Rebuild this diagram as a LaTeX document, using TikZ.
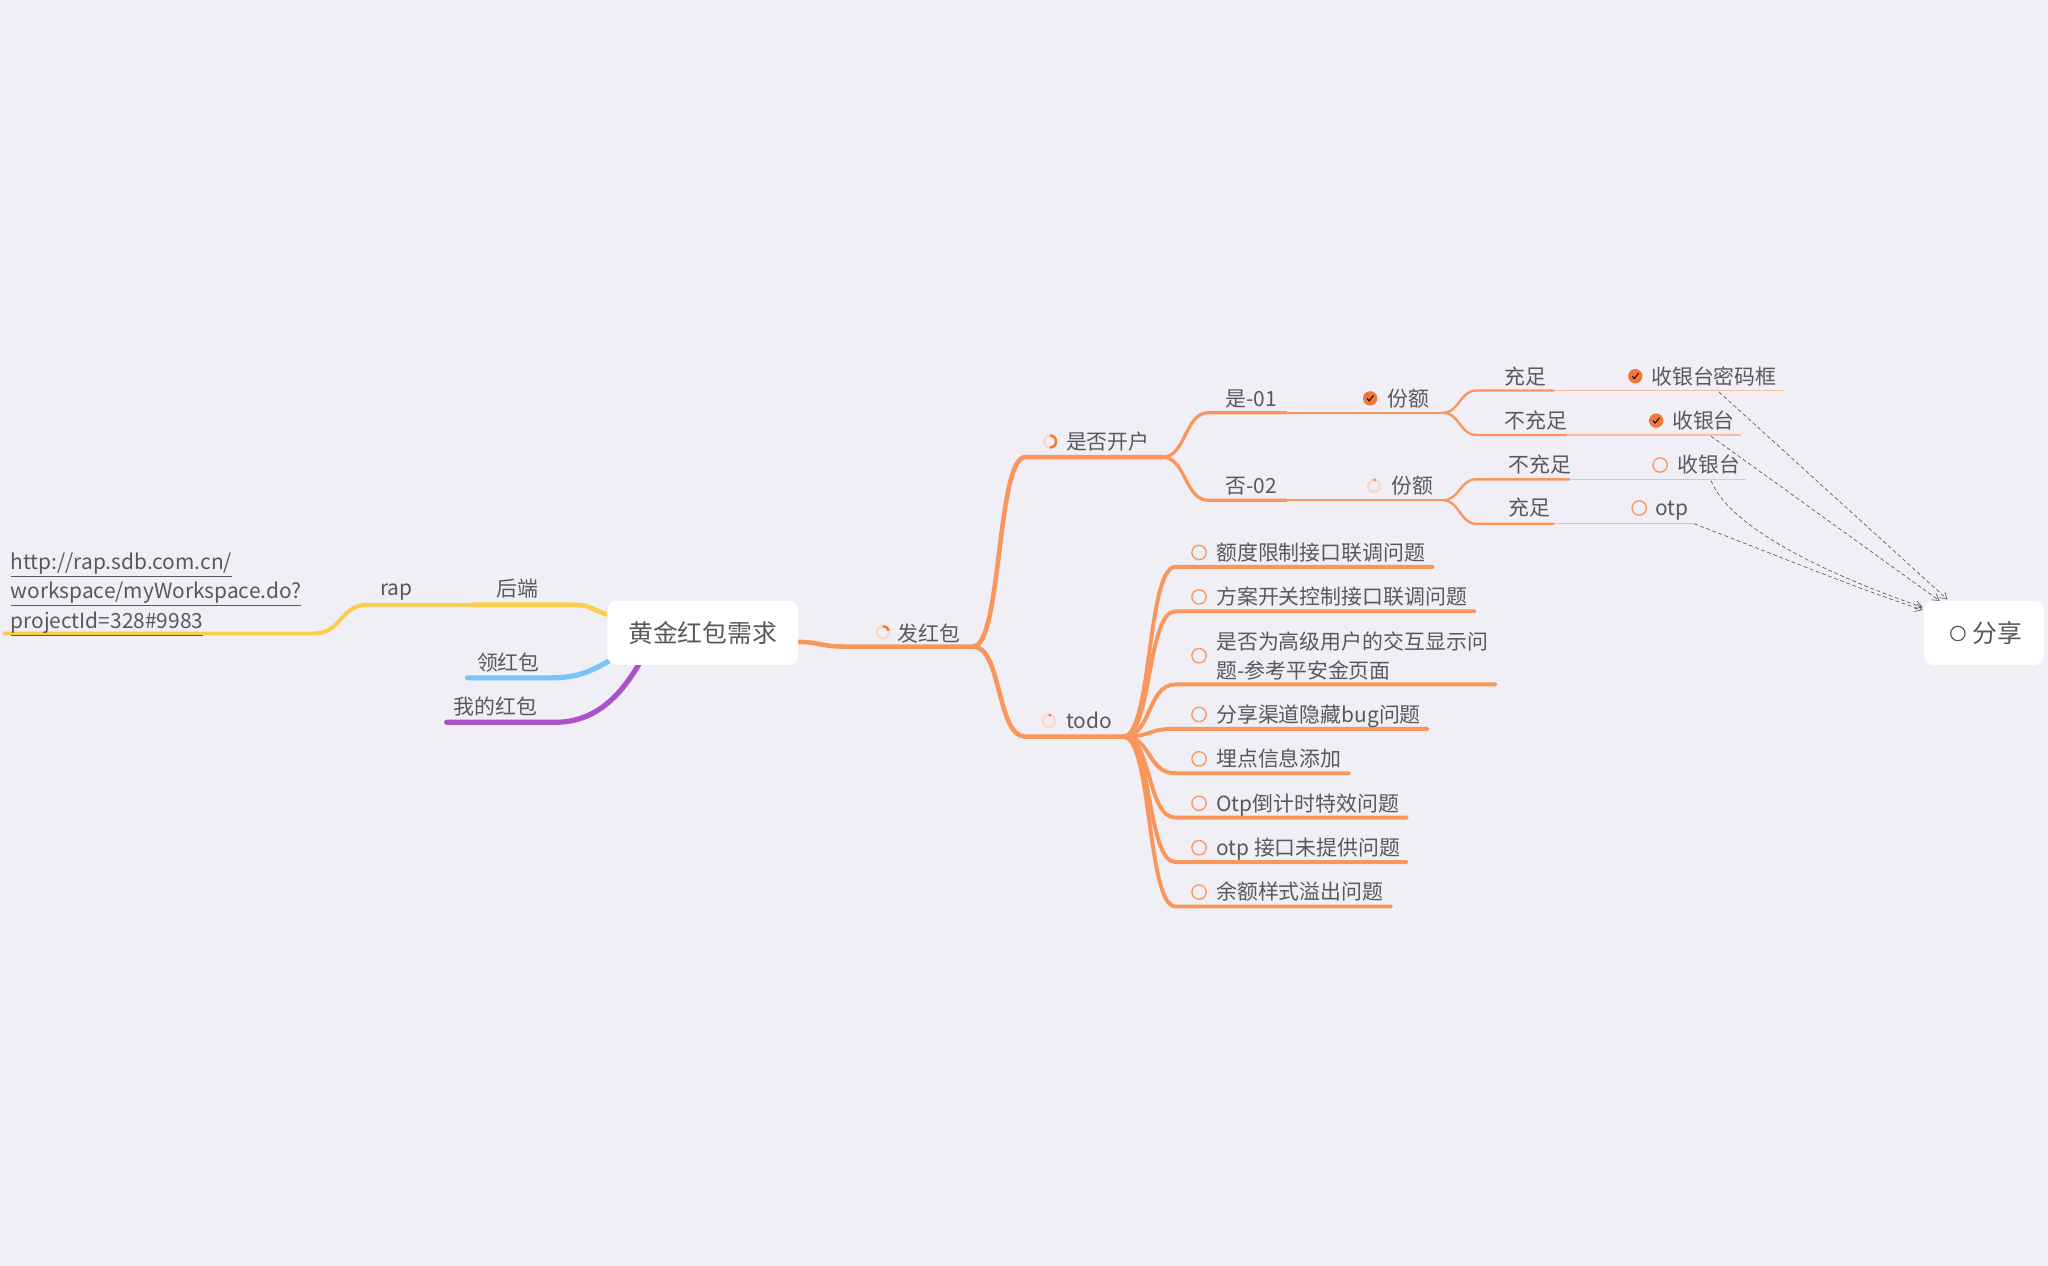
\documentclass[tikz,border=0pt]{standalone}
\usepackage{fontspec}
\setmainfont{Noto Sans CJK SC}
\usetikzlibrary{arrows.meta,backgrounds}
\definecolor{bgpaper}{RGB}{240,239,245}
\definecolor{inkgray}{RGB}{88,88,94}
\definecolor{mapor}{RGB}{250,150,92}
\definecolor{maporlt}{RGB}{251,190,154}
\definecolor{mapordk}{RGB}{240,118,58}
\definecolor{ringlt}{RGB}{250,216,198}
\definecolor{mapyel}{RGB}{253,204,72}
\definecolor{mapblue}{RGB}{122,196,250}
\definecolor{mappurp}{RGB}{172,82,200}
\tikzset{
    topic/.style = {text=inkgray, font=\fontsize{16}{20}\selectfont, inner sep=0pt, anchor=base west},
    root-box/.style = {fill=white, rounded corners=7pt, text=inkgray, font=\fontsize{19}{22}\selectfont, minimum width=146pt, minimum height=49pt, inner sep=0pt},
    trunk/.style = {draw=mapor, line width=3.5pt, line cap=round},
    twig/.style = {draw=mapor, line width=3pt, line cap=round},
    branch/.style = {draw=mapor, line width=2.5pt, line cap=round},
    sub/.style = {draw=mapor, line width=1.8pt},
    leaf/.style = {draw=maporlt, line width=1.1pt},
    yel-br/.style = {draw=mapyel, line width=3.5pt, line cap=round},
    blue-br/.style = {draw=mapblue, line width=4pt, line cap=round},
    purp-br/.style = {draw=mappurp, line width=4pt, line cap=round},
    link-arrow/.style = {draw=inkgray, densely dashed, line width=0.5pt, -{Straight Barb[length=5pt,width=6pt]}},
    pics/tickmark/.style = {code={
        \fill[mapordk] (0,0) circle (5.5);
        \draw[black, line width=0.7pt] (-2.4,0) -- (-0.7,1.9) -- (2.5,-2.2);
    }},
    pics/openmark/.style = {code={\draw[mapor, line width=1pt] (0,0) circle (5.5);}},
    pics/progmark/.style = {code={
        \draw[ringlt, line width=1.8pt] (0,0) circle (4.6);
        \draw[mapordk, line width=1.8pt] (270:4.6) arc (270:270+#1:4.6);
    }},
}

\begin{document}
\begin{tikzpicture}[x=1pt, y=-1pt]
\useasboundingbox (0,0) rectangle (1568,969);

% boxes
\node[root-box] (root) at (538,484.5) {黄金红包需求};
\node[root-box, minimum width=92pt] (share) at (1519,484.5) {\hspace*{21pt}分享};
\draw[inkgray, line width=0.9pt] (1499,485) circle (5.5);

% left side
\node[topic] (houduan) at (380,457) {后端};
\node[topic] (rap) at (291,456) {rap};
\node[topic, anchor=north west, align=left, font=\fontsize{16}{22.5}\selectfont] (url) at (8,423)
    {\underline{http://rap.sdb.com.cn/}\\\underline{workspace/myWorkspace.do?}\\\underline{projectId=328\#9983}};
\node[topic] (linghb) at (365,513) {领红包};
\node[topic] (wodehb) at (347,547) {我的红包};

% right side
\node[topic] (fahb) at (687,491) {发红包};
\pic at (676,484) {progmark=75};
\node[topic] (kaihu) at (816,344) {是否开户};
\pic at (804,338) {progmark=180};
\node[topic] (todo) at (816,558) {todo};
\pic at (803,552) {progmark=20};

\node[topic] (shi01) at (938,311) {是-01};
\node[topic] (fene1) at (1062,311) {份额};
\pic at (1049,305) {tickmark};
\node[topic] (fou02) at (938,378) {否-02};
\node[topic] (fene2) at (1065,378) {份额};
\pic at (1052,372) {progmark=15};

\node[topic] (chong1) at (1152,294) {充足};
\node[topic] (mimak) at (1264,294) {收银台密码框};
\pic at (1252,288) {tickmark};
\node[topic] (buchong1) at (1152,328) {不充足};
\node[topic] (syt1) at (1280,328) {收银台};
\pic at (1268,322) {tickmark};
\node[topic] (buchong2) at (1155,362) {不充足};
\node[topic] (syt2) at (1284,362) {收银台};
\pic at (1271,356) {openmark};
\node[topic] (chong2) at (1155,395) {充足};
\node[topic] (otp) at (1267,395) {otp};
\pic at (1255,389) {openmark};

% line points
\coordinate (hd-a) at (435,463);
\coordinate (hd-b) at (362,463);
\coordinate (rap-b) at (282,463);
\coordinate (url-a) at (240,485);
\coordinate (url-b) at (3,485);
\coordinate (lhb-a) at (420,519);
\coordinate (lhb-b) at (358,519);
\coordinate (wd-a) at (425,553);
\coordinate (wd-b) at (342,553);
\coordinate (fhb-a) at (645,495);
\coordinate (fhb-b) at (745,495);
\coordinate (sf-a) at (785,350);
\coordinate (sf-b) at (890,350);
\coordinate (todo-a) at (785,564);
\coordinate (todo-b) at (860,564);
\coordinate (s01-a) at (925,316);
\coordinate (s01-b) at (985,316);
\coordinate (fe1-b) at (1105,316);
\coordinate (f02-a) at (925,383);
\coordinate (f02-b) at (985,383);
\coordinate (fe2-b) at (1105,383);
\coordinate (cz1-a) at (1130,299);
\coordinate (cz1-b) at (1190,299);
\coordinate (mmk-b) at (1365,299);
\coordinate (bcz1-a) at (1130,333);
\coordinate (bcz1-b) at (1200,333);
\coordinate (syt1-b) at (1333,333);
\coordinate (bcz2-a) at (1130,367);
\coordinate (bcz2-b) at (1202,367);
\coordinate (syt2-b) at (1337,367);
\coordinate (cz2-a) at (1130,401);
\coordinate (cz2-b) at (1190,401);
\coordinate (otp-b) at (1297,401);

% todo items
\foreach \nm/\uy/\ux/\txt in {td1/434/1097/额度限制接口联调问题, td2/468/1129/方案开关控制接口联调问题,
    td4/558/1093/分享渠道隐藏bug问题, td5/592/1033/埋点信息添加, td6/626/1077/Otp倒计时特效问题,
    td7/660/1077/otp 接口未提供问题, td8/694/1065/余额样式溢出问题} {
    \coordinate (\nm-a) at (900,\uy);
    \coordinate (\nm-b) at (\ux,\uy);
    \node[topic] (\nm) at (931,\uy-5) {\txt};
    \pic at (918,\uy-11) {openmark};
}
\coordinate (td3-a) at (900,524);
\coordinate (td3-b) at (1145,524);
\node[topic, anchor=west, align=left, font=\fontsize{16}{22}\selectfont] (td3) at (931,502) {是否为高级用户的交互显示问\\题-参考平安金页面};
\pic at (918,502) {openmark};

% dashed links to share
\coordinate (a1-s) at (1316,300);
\coordinate (a2-s) at (1310,334);
\coordinate (a3-s) at (1310,368);
\coordinate (a4-s) at (1297,401);
\coordinate (shr-1) at (1491,459);
\coordinate (shr-2) at (1485,460);
\coordinate (shr-3) at (1472,465);
\coordinate (shr-4) at (1472,467);
\draw[link-arrow] (a1-s) -- (shr-1);
\draw[link-arrow] (a2-s) -- (shr-2);
\draw[link-arrow] (a3-s) .. controls (1325,405) and (1400,440) .. (shr-3);
\draw[link-arrow] (a4-s) .. controls (1360,425) and (1420,450) .. (shr-4);

\begin{scope}[on background layer]
\fill[bgpaper] (0,0) rectangle (1568,969);
% left branches
\draw[yel-br] ([yshift=14pt]root.west) .. controls +(-15,-5) and +(18,0) .. (hd-a) -- (hd-b);
\draw[yel-br, line width=3pt] (hd-b) -- (rap-b) .. controls +(-22,0) and +(22,0) .. (url-a) -- (url-b);
\draw[blue-br] ([shift={(3,-4)}]root.south west) .. controls +(-15,8) and +(25,0) .. (lhb-a) -- (lhb-b);
\draw[purp-br] ([xshift=24pt]root.south west) .. controls +(-15,25) and +(30,0) .. (wd-a) -- (wd-b);
% right branches
\draw[trunk] ([yshift=-7pt]root.east) .. controls +(15,0) and +(-15,0) .. (fhb-a) -- (fhb-b);
\draw[trunk] (fhb-b) .. controls +(22,0) and +(-22,0) .. (sf-a) -- (sf-b);
\draw[trunk] (fhb-b) .. controls +(22,0) and +(-22,0) .. (todo-a) -- (todo-b);
\draw[branch] (sf-b) .. controls +(18,0) and +(-18,0) .. (s01-a) -- (s01-b);
\draw[branch] (sf-b) .. controls +(18,0) and +(-18,0) .. (f02-a) -- (f02-b);
\draw[sub] (s01-b) -- (fe1-b);
\draw[sub] (f02-b) -- (fe2-b);
\draw[sub] (fe1-b) .. controls +(12,0) and +(-12,0) .. (cz1-a) -- (cz1-b);
\draw[sub] (fe1-b) .. controls +(12,0) and +(-12,0) .. (bcz1-a) -- (bcz1-b);
\draw[sub] (fe2-b) .. controls +(12,0) and +(-12,0) .. (bcz2-a) -- (bcz2-b);
\draw[sub] (fe2-b) .. controls +(12,0) and +(-12,0) .. (cz2-a) -- (cz2-b);
\draw[leaf] (cz1-b) -- (mmk-b);
\draw[leaf] (bcz1-b) -- (syt1-b);
\draw[leaf] (bcz2-b) -- (syt2-b);
\draw[leaf] (cz2-b) -- (otp-b);
\foreach \nm in {td1,td2,td3,td4,td5,td6,td7,td8}
    \draw[twig] (todo-b) .. controls +(22,0) and +(-22,0) .. (\nm-a) -- (\nm-b);
\end{scope}
\end{tikzpicture}
\end{document}
